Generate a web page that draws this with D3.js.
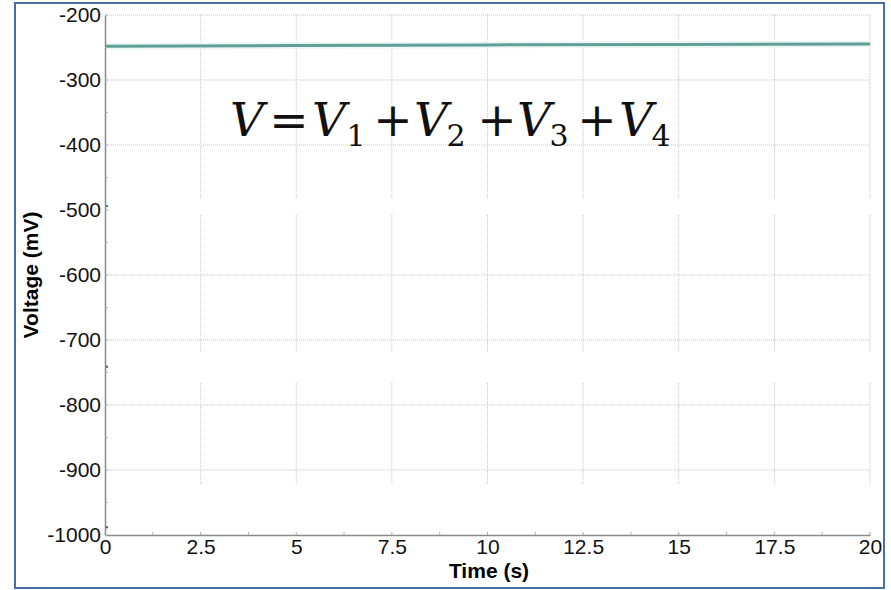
<!DOCTYPE html>
<html>
<head>
  <meta charset="utf-8">
  <script src="https://d3js.org/d3.v7.min.js"></script>
  <style>
    body { margin: 0; background: #fff; }
    .grid line { stroke: #c8c8c8; stroke-dasharray: 1,1; }
  </style>
</head>
<body>
  <div id="chart"></div>
  <script>
    // data
    const xTicks = [0, 2.5, 5, 7.5, 10, 12.5, 15, 17.5, 20];
    const yTicks = [-200, -300, -400, -500, -600, -700, -800, -900, -1000];

    const time = [0, 5, 10, 15, 20];
    const vTotal = [-248, -247, -246, -245.3, -244.6];
    const v1 = [-494, -494, -494, -494, -494];
    const v2 = [-741, -741, -741, -741, -741];
    const v3 = [-988, -988, -988, -988, -988];

    const series = [
      { name: "V1", values: v1, color: "#3a7dc0", width: 2 },
      { name: "V2", values: v2, color: "#2f6b34", width: 2 },
      { name: "V3", values: v3, color: "#7a2c86", width: 2 }
    ];

    const width = 891, height = 590;
    const svg = d3.select("#chart").append("svg")
      .attr("width", width).attr("height", height);

    const x = d3.scaleLinear().domain([0, 20]).range([105, 870]);
    const y = d3.scaleLinear().domain([-1000, -200]).range([535, 15]);

    // grid
    const grid = svg.append("g").attr("class", "grid");
    grid.selectAll(".gx").data(xTicks.slice(1)).join("line")
      .attr("x1", d => x(d)).attr("x2", d => x(d))
      .attr("y1", y(-200)).attr("y2", y(-1000));
    grid.selectAll(".gy").data(yTicks.slice(0, -1)).join("line")
      .attr("x1", x(0)).attr("x2", x(20))
      .attr("y1", d => y(d)).attr("y2", d => y(d));

    const line = d3.line().x((d, i) => x(time[i])).y(d => y(d));

    // component lines (mostly hidden in the source image)
    svg.selectAll(".comp").data(series).join("path")
      .attr("fill", "none")
      .attr("stroke", d => d.color)
      .attr("stroke-width", d => d.width)
      .attr("d", d => line(d.values));

    // white patches that cover them in the reference
    const patches = [[198, 215], [352, 383], [484, 533]];
    svg.selectAll(".patch").data(patches).join("rect")
      .attr("x", 108).attr("width", 774)
      .attr("y", d => d[0]).attr("height", d => d[1] - d[0])
      .attr("fill", "#fff");

    // total voltage
    svg.append("path")
      .attr("fill", "none").attr("stroke", "#edf7f2").attr("stroke-width", 7)
      .attr("d", line(vTotal));
    svg.append("path")
      .attr("fill", "none").attr("stroke", "#5e9f9a").attr("stroke-width", 3)
      .attr("d", line(vTotal));

    const font = "Liberation Sans, Arial, Helvetica, sans-serif";

    // axes
    const xAxis = d3.axisBottom(x).tickValues(xTicks).tickSize(0).tickPadding(7)
      .tickFormat(d => String(d));
    const gx = svg.append("g").attr("transform", `translate(0,${y(-1000)})`).call(xAxis);
    gx.select(".domain").attr("stroke", "#8a8a8a").attr("stroke-width", 1.5);
    gx.selectAll(".tick text")
      .style("font-family", font).style("font-size", "21px").attr("fill", "#111")
      .attr("dy", "0.55em");

    const yAxis = d3.axisLeft(y).tickValues(yTicks).tickSize(0).tickPadding(4)
      .tickFormat(d => String(d));
    const gy = svg.append("g").attr("transform", `translate(${x(0)},0)`).call(yAxis);
    gy.select(".domain").attr("stroke", "#8a8a8a").attr("stroke-width", 1.5);
    gy.selectAll(".tick text")
      .style("font-family", font).style("font-size", "21px").attr("fill", "#111");

    // small inner ticks
    const minorX = d3.range(0, 20.01, 1.25);
    svg.selectAll(".mx").data(minorX).join("line")
      .attr("x1", d => x(d)).attr("x2", d => x(d))
      .attr("y1", y(-1000)).attr("y2", y(-1000) - 3)
      .attr("stroke", "#b0b0b0");
    const minorY = d3.range(-1000, -199, 50);
    svg.selectAll(".my").data(minorY).join("line")
      .attr("x1", x(0)).attr("x2", x(0) + 3)
      .attr("y1", d => y(d)).attr("y2", d => y(d))
      .attr("stroke", "#b0b0b0");

    // axis titles
    svg.append("text")
      .attr("transform", `translate(38,${(y(-200) + y(-1000)) / 2}) rotate(-90)`)
      .attr("text-anchor", "middle")
      .style("font-family", font)
      .style("font-size", "21px").style("font-weight", "bold")
      .text("Voltage (mV)");
    svg.append("text")
      .attr("x", 489).attr("y", 578)
      .attr("text-anchor", "middle")
      .style("font-family", font)
      .style("font-size", "21px").style("font-weight", "bold")
      .text("Time (s)");

    // equation, each glyph centred where it sits in the reference
    const eq = [
      { t: "V", x: 247, it: true }, { t: "=", x: 289 },
      { t: "V", x: 329, it: true }, { t: "1", x: 356, sub: true }, { t: "+", x: 393 },
      { t: "V", x: 431, it: true }, { t: "2", x: 456, sub: true }, { t: "+", x: 497 },
      { t: "V", x: 534, it: true }, { t: "3", x: 559, sub: true }, { t: "+", x: 597 },
      { t: "V", x: 636, it: true }, { t: "4", x: 661, sub: true }
    ];
    svg.append("g").selectAll("text").data(eq).join("text")
      .attr("x", d => d.x)
      .attr("y", d => d.sub ? 146 : 136)
      .attr("text-anchor", "middle")
      .style("font-family", "DejaVu Serif, Liberation Serif, serif")
      .style("font-style", d => d.it ? "italic" : "normal")
      .style("font-size", d => d.sub ? "30px" : "47px")
      .attr("fill", "#111")
      .text(d => d.t);

    // frame
    svg.append("rect")
      .attr("x", 15).attr("y", 3).attr("width", 869).attr("height", 585)
      .attr("fill", "none").attr("stroke", "#4a6ea6").attr("stroke-width", 2);
  </script>
</body>
</html>
